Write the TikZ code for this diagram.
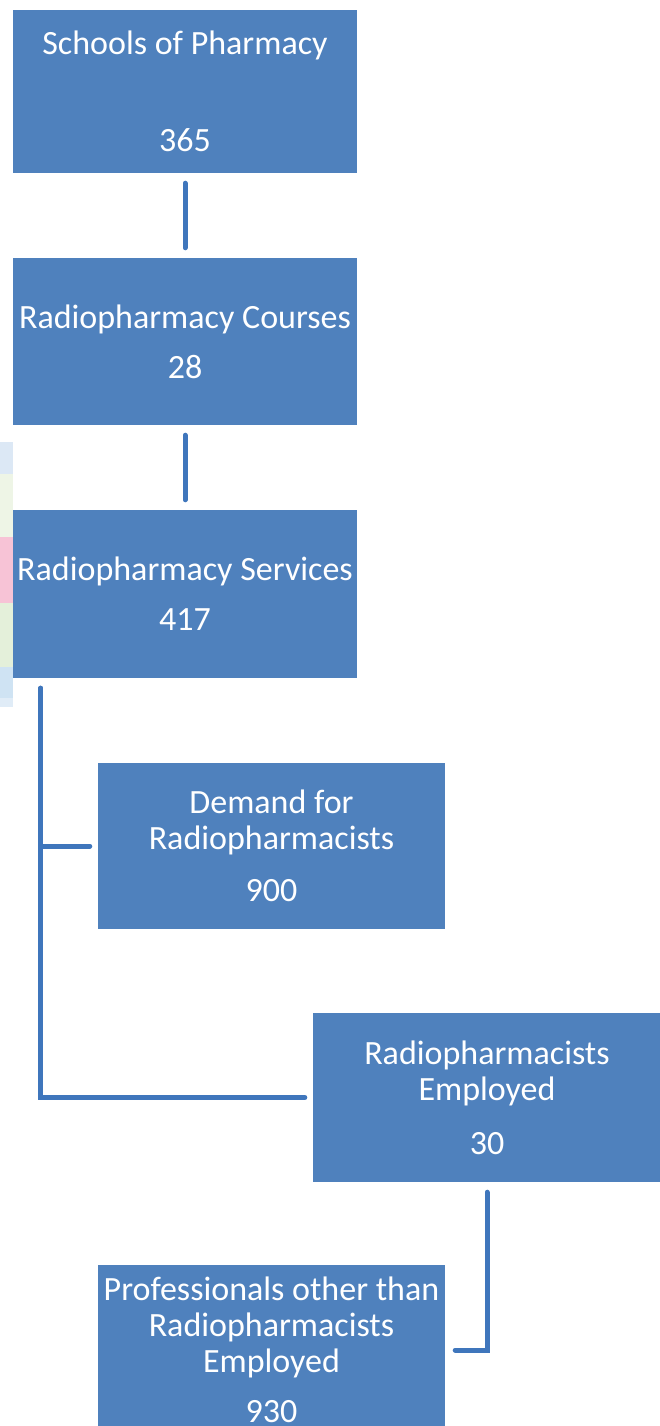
\documentclass[tikz,border=0pt]{standalone}
\usepackage{fontspec}
\setmainfont{Carlito}
\usepackage{xcolor}
\usepackage{tikz}
\usetikzlibrary{arrows.meta, positioning, calc}
\definecolor{boxblue}{HTML}{4F81BD}
\definecolor{linkblue}{HTML}{3F76BC}
\tikzset{
  box/.style={rectangle, fill=boxblue, text=white, inner sep=0pt, align=center,
    font=\fontsize{34}{36}\selectfont},
  link/.style={linkblue, line width=5pt, line cap=round, line join=miter}
}

\begin{document}
\begin{tikzpicture}[x=1pt,y=-1pt]
  \clip (0,0) rectangle (660,1426);
  \fill[white] (0,0) rectangle (660,1426);

  \foreach \ya/\yb/\col in {442/474/DCE8F5, 474/537/EEF5E6, 537/603/F7C3D6,
      603/667/E4F0DA, 667/698/CFE3F3, 698/707/E0ECF7}{
    \definecolor{stripcol}{HTML}{\col}
    \fill[stripcol] (0,\ya) rectangle (13,\yb);
  }

  \node[box, minimum width=344pt, minimum height=163pt] (schools) at (185,91.5)
    {Schools of Pharmacy\\[61pt]365};
  \node[box, minimum width=344pt, minimum height=167pt] (courses) at (185,341.5)
    {Radiopharmacy Courses\\[14pt]28};
  \node[box, minimum width=344pt, minimum height=168pt] (services) at (185,594)
    {Radiopharmacy Services\\[14pt]417};
  \node[box, minimum width=347pt, minimum height=166pt] (demand) at (271.5,846)
    {Demand for\\Radiopharmacists\\[16pt]900};
  \node[box, minimum width=348pt, minimum height=169pt] (employed) at (487,1097.5)
    {Radiopharmacists\\Employed\\[18pt]30};
  \node[box, minimum width=347pt, minimum height=170pt] (others) at (271.5,1350)
    {Professionals other than\\Radiopharmacists\\Employed\\[14pt]930};

  \draw[link, shorten <=10pt, shorten >=10pt] (schools) -- (courses);
  \draw[link, shorten <=10pt, shorten >=10pt] (courses) -- (services);
  \draw[link] ([xshift=28pt,yshift=-10pt]services.south west)
    |- ([xshift=-8pt]demand.west);
  \draw[link] ([xshift=28pt,yshift=-10pt]services.south west)
    |- ([xshift=-8pt]employed.west);
  \draw[link] ([yshift=-10pt]employed.south) |- ([xshift=10pt]others.east);
\end{tikzpicture}
\end{document}
